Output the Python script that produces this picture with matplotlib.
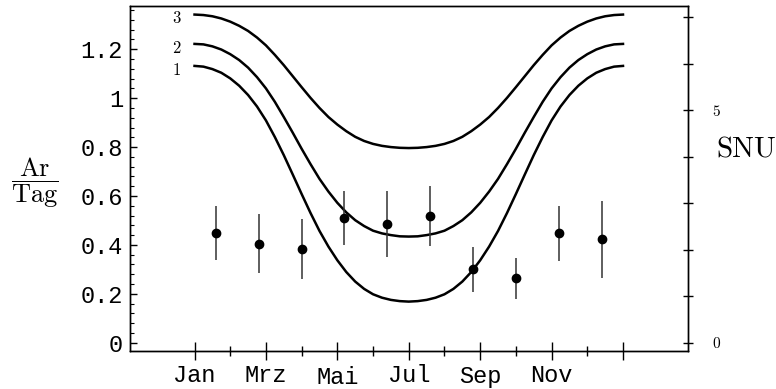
import matplotlib
matplotlib.use("Agg")
import numpy as np
import matplotlib.pyplot as plt
import matplotlib.transforms as mtransforms
from matplotlib.ticker import FixedLocator, FixedFormatter

plt.rcParams['mathtext.fontset'] = 'cm'

# months after 1 January, sampled every quarter month
months = [q / 4 for q in range(49)]

# predicted argon production rate (Ar/Tag) for the three models
model_1 = [1.132, 1.129, 1.119, 1.104, 1.081, 1.051, 1.013, 0.966, 0.909, 0.841,
           0.767, 0.688, 0.608, 0.530, 0.457, 0.393, 0.337, 0.289, 0.250, 0.220,
           0.198, 0.184, 0.175, 0.170, 0.168, 0.170, 0.175, 0.184, 0.198, 0.220,
           0.250, 0.289, 0.337, 0.393, 0.457, 0.530, 0.608, 0.688, 0.767, 0.841,
           0.909, 0.966, 1.013, 1.051, 1.081, 1.104, 1.119, 1.129, 1.132]
model_2 = [1.222, 1.220, 1.212, 1.199, 1.180, 1.156, 1.125, 1.086, 1.040, 0.985,
           0.923, 0.859, 0.793, 0.730, 0.670, 0.618, 0.572, 0.533, 0.501, 0.477,
           0.458, 0.447, 0.440, 0.435, 0.434, 0.435, 0.440, 0.447, 0.458, 0.477,
           0.501, 0.533, 0.572, 0.618, 0.670, 0.730, 0.793, 0.859, 0.923, 0.985,
           1.040, 1.086, 1.125, 1.156, 1.180, 1.199, 1.212, 1.220, 1.222]
model_3 = [1.342, 1.340, 1.335, 1.326, 1.313, 1.296, 1.275, 1.248, 1.216, 1.177,
           1.135, 1.090, 1.045, 1.001, 0.960, 0.923, 0.892, 0.865, 0.842, 0.825,
           0.813, 0.805, 0.800, 0.797, 0.796, 0.797, 0.800, 0.805, 0.813, 0.825,
           0.842, 0.865, 0.892, 0.923, 0.960, 1.001, 1.045, 1.090, 1.135, 1.177,
           1.216, 1.248, 1.275, 1.296, 1.313, 1.326, 1.335, 1.340, 1.342]
model_names = ["1", "2", "3"]

# measured rates with asymmetric error bars
obs_month = [0.6, 1.8, 3.0, 4.2, 5.4, 6.6, 7.8, 9.0, 10.2, 11.4]
obs_rate = [0.449, 0.405, 0.382, 0.511, 0.485, 0.519, 0.300, 0.263, 0.447, 0.424]
obs_low = [0.337, 0.284, 0.259, 0.400, 0.352, 0.397, 0.206, 0.180, 0.334, 0.266]
obs_high = [0.560, 0.526, 0.506, 0.620, 0.620, 0.641, 0.393, 0.346, 0.560, 0.580]

month_ticks = [0, 2, 4, 6, 8, 10, 12]
month_labels = ["Jan", "Mrz", "Mai", "Jul", "Sep", "Nov", ""]
rate_ticks = [0, 0.2, 0.4, 0.6, 0.8, 1.0, 1.2]
rate_labels = ["0", "0.2", "0.4", "0.6", "0.8", "1", "1.2"]
snu_ticks = [0, 1, 2, 3, 4, 5, 6, 7]
snu_labels = ["0", "", "", "", "", "5", "", ""]
ar_per_snu = 0.1902

fig = plt.figure(figsize=(7.76, 3.89), dpi=100)
ax = fig.add_axes([130 / 776, 1 - 351 / 389, 558 / 776, 345 / 389])
ax.set_xlim(-1.807, 13.82)
ax.set_ylim(-0.034, 1.377)

for curve, name in zip([model_1, model_2, model_3], model_names):
    ax.plot(months, curve, color="black", lw=1.8)
    ax.annotate(name, (months[0], curve[0]), xytext=(-10, -3), textcoords="offset points",
                ha="right", va="center", fontsize=12, family="cmr10")

yerr = [np.subtract(obs_rate, obs_low), np.subtract(obs_high, obs_rate)]
ax.errorbar(obs_month, obs_rate, yerr=yerr, fmt="o", color="black", ms=6,
            ecolor="#333333", elinewidth=1.1, capsize=0)

for sp in ax.spines.values():
    sp.set_linewidth(1.0)

mono = "Liberation Mono"
ax.xaxis.set_major_locator(FixedLocator(month_ticks))
ax.xaxis.set_major_formatter(FixedFormatter(month_labels))
ax.xaxis.set_minor_locator(FixedLocator([1, 3, 5, 7, 9, 11]))
ax.tick_params(axis="x", which="major", direction="inout", length=13, width=1, pad=2.5,
               labelsize=17)
ax.tick_params(axis="x", which="minor", direction="inout", length=6.5, width=1)

ax.yaxis.set_major_locator(FixedLocator(rate_ticks))
ax.yaxis.set_major_formatter(FixedFormatter(rate_labels))
ax.yaxis.set_minor_locator(FixedLocator(np.arange(0, 1.37, 0.04)))
ax.tick_params(axis="y", which="major", direction="in", length=5, width=1, pad=5,
               labelsize=17)
ax.tick_params(axis="y", which="minor", direction="in", length=3, width=0.8)
for lab in ax.get_xticklabels() + ax.get_yticklabels():
    lab.set_fontfamily(mono)

# Mai and Sep sit a little lower than the other month names
shift = mtransforms.ScaledTranslation(0, -2 / 100, fig.dpi_scale_trans)
for lab in ax.get_xticklabels():
    if lab.get_text() in ("Mai", "Sep"):
        lab.set_transform(lab.get_transform() + shift)

ax2 = ax.twinx()
ax2.set_ylim(-0.034 / ar_per_snu, 1.377 / ar_per_snu)
ax2.yaxis.set_major_locator(FixedLocator(snu_ticks))
ax2.yaxis.set_major_formatter(FixedFormatter(snu_labels))
ax2.tick_params(axis="y", direction="inout", length=6.5, width=1, pad=14, labelsize=11)
for lab in ax2.get_yticklabels():
    lab.set_fontfamily("cmr10")
for sp in ax2.spines.values():
    sp.set_linewidth(1.0)

fig.text(35 / 776, 1 - 183 / 389, r"$\dfrac{\mathrm{Ar}}{\mathrm{Tag}}$", ha="center",
         va="center", fontsize=19)
fig.text(716 / 776, 1 - 150 / 389, "SNU", ha="left", va="center", fontsize=21,
         family="cmr10")

fig.savefig("out.png", dpi=100)
